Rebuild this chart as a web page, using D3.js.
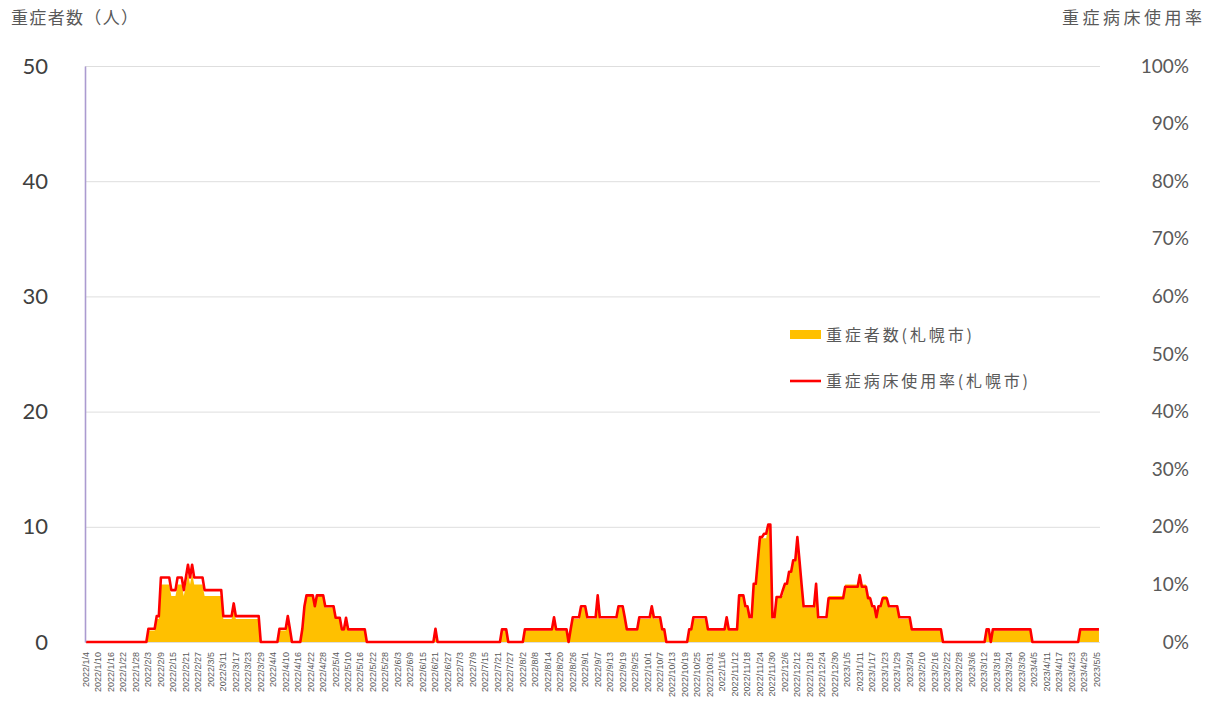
<!DOCTYPE html>
<html>
<head>
<meta charset="utf-8">
<script src="https://cdn.jsdelivr.net/npm/d3@7"></script>
<style>
  body { margin: 0; background: #fff; }
  svg { display: block; }
</style>
</head>
<body>
<script>
// start date of each run of equal values (a run lasts until the next start)
const runStarts = [
  "2022/1/4", "2022/2/3", "2022/2/7", "2022/2/9", "2022/2/14", "2022/2/17", "2022/2/20", "2022/2/21",
  "2022/2/22", "2022/2/23", "2022/2/24", "2022/2/25", "2022/3/2", "2022/3/11", "2022/3/16", "2022/3/17",
  "2022/3/29", "2022/4/7", "2022/4/11", "2022/4/12", "2022/4/13", "2022/4/18", "2022/4/19", "2022/4/20",
  "2022/4/24", "2022/4/25", "2022/4/29", "2022/5/4", "2022/5/7", "2022/5/9", "2022/5/10", "2022/5/19",
  "2022/6/21", "2022/6/22", "2022/7/23", "2022/7/26", "2022/8/3", "2022/8/17", "2022/8/18", "2022/8/24",
  "2022/8/25", "2022/8/26", "2022/8/30", "2022/9/2", "2022/9/7", "2022/9/8", "2022/9/17", "2022/9/20",
  "2022/9/21", "2022/9/27", "2022/10/3", "2022/10/4", "2022/10/8", "2022/10/10", "2022/10/21", "2022/10/23",
  "2022/10/30", "2022/11/8", "2022/11/9", "2022/11/14", "2022/11/17", "2022/11/19", "2022/11/21", "2022/11/23",
  "2022/11/24", "2022/11/26", "2022/11/28", "2022/11/30", "2022/12/2", "2022/12/5", "2022/12/6", "2022/12/8",
  "2022/12/10", "2022/12/12", "2022/12/13", "2022/12/14", "2022/12/15", "2022/12/21", "2022/12/22", "2022/12/27",
  "2023/1/4", "2023/1/11", "2023/1/12", "2023/1/15", "2023/1/17", "2023/1/19", "2023/1/20", "2023/1/22",
  "2023/1/25", "2023/1/30", "2023/2/5", "2023/2/20", "2023/3/13", "2023/3/15", "2023/3/16", "2023/4/4",
  "2023/4/27"
];
const lastDate = "2023/5/6";

// 重症者数（人）
const severeCounts = [
  0, 1, 2, 5, 4, 5, 4, 5, 6, 5, 6, 5, 4, 2, 3, 2,
  0, 1, 2, 1, 0, 1, 3, 4, 3, 4, 3, 2, 1, 2, 1, 0,
  1, 0, 1, 0, 1, 2, 1, 0, 1, 2, 3, 2, 4, 2, 3, 2,
  1, 2, 3, 2, 1, 0, 1, 2, 1, 2, 1, 4, 3, 2, 5, 7,
  9, 9, 10, 2, 4, 4, 5, 6, 7, 9, 7, 5, 3, 5, 2, 4,
  5, 6, 5, 4, 3, 2, 3, 4, 3, 2, 1, 0, 1, 0, 1, 0,
  1
];

// 重症病床使用率（%）
const bedRates = [
  0, 2.3, 4.5, 11.2, 9.0, 11.2, 9.0, 11.2, 13.4, 11.2, 13.4, 11.2, 9.0, 4.5, 6.7, 4.5,
  0, 2.3, 4.5, 2.3, 0, 2.3, 6.2, 8.1, 6.2, 8.1, 6.2, 4.2, 2.2, 4.2, 2.2, 0,
  2.3, 0, 2.2, 0, 2.2, 4.3, 2.2, 0, 2.2, 4.3, 6.2, 4.3, 8.1, 4.3, 6.2, 4.3,
  2.2, 4.3, 6.2, 4.3, 2.2, 0, 2.2, 4.3, 2.2, 4.3, 2.2, 8.1, 6.2, 4.3, 10.1, 14.2,
  18.2, 18.8, 20.4, 4.3, 7.8, 9.0, 10.1, 12.2, 14.2, 18.2, 14.2, 10.1, 6.2, 10.1, 4.3, 7.6,
  9.6, 11.6, 9.6, 7.6, 6.2, 4.3, 6.2, 7.6, 6.2, 4.3, 2.2, 0, 2.2, 0, 2.2, 0,
  2.2
];

const leftTicks = [0, 10, 20, 30, 40, 50];
const rightTicks = [0, 10, 20, 30, 40, 50, 60, 70, 80, 90, 100];
const tickEvery = 6;

const width = 1212;
const height = 702;
const plot = { left: 85, right: 1100, top: 66, bottom: 642 };

const parse = d3.timeParse("%Y/%-m/%-d");
const fmt = d => `${d.getFullYear()}/${d.getMonth() + 1}/${d.getDate()}`;

// expand the runs into one row per day
const starts = runStarts.map(parse);
const days = d3.timeDay.range(starts[0], d3.timeDay.offset(parse(lastDate), 1));
const data = days.map(day => {
  const k = d3.bisectRight(starts, day) - 1;
  return { label: fmt(day), count: severeCounts[k], rate: bedRates[k] };
});

const svg = d3.select("body").append("svg")
  .attr("width", width)
  .attr("height", height)
  .attr("viewBox", [0, 0, width, height]);

const x = d3.scaleBand()
  .domain(data.map(d => d.label))
  .range([plot.left, plot.right]);
const cx = d => x(d.label) + x.bandwidth() / 2;

const yLeft = d3.scaleLinear().domain([0, 50]).range([plot.bottom, plot.top]);
const yRight = d3.scaleLinear().domain([0, 100]).range([plot.bottom, plot.top]);

// gridlines
svg.append("g")
  .attr("transform", `translate(${plot.left},0)`)
  .call(d3.axisLeft(yLeft).tickValues(leftTicks).tickSize(-(plot.right - plot.left)).tickFormat(""))
  .call(g => g.select(".domain").remove())
  .call(g => g.selectAll("line").attr("stroke", "#dedede").attr("stroke-width", 1));

// area: 重症者数
svg.append("path")
  .datum(data)
  .attr("fill", "#ffc000")
  .attr("d", d3.area().x(cx).y0(yLeft(0)).y1(d => yLeft(d.count)));

// line: 重症病床使用率
svg.append("path")
  .datum(data)
  .attr("fill", "none")
  .attr("stroke", "#ff0000")
  .attr("stroke-width", 2.6)
  .attr("stroke-linejoin", "round")
  .attr("d", d3.line().x(cx).y(d => yRight(d.rate)));

// left axis
svg.append("g")
  .attr("transform", `translate(${plot.left},0)`)
  .call(d3.axisLeft(yLeft).tickValues(leftTicks).tickSize(0).tickPadding(37))
  .call(g => g.select(".domain").attr("stroke", "#ab9bd0").attr("stroke-width", 1.6))
  .call(g => g.selectAll("text")
    .attr("fill", "#404040")
    .attr("font-family", "Lato, 'Open Sans', sans-serif")
    .attr("font-size", 22));

// right axis
svg.append("g")
  .attr("transform", `translate(${plot.right},0)`)
  .call(d3.axisRight(yRight).tickValues(rightTicks).tickSize(0).tickPadding(89).tickFormat(d => d + "%"))
  .call(g => g.select(".domain").remove())
  .call(g => g.selectAll("text")
    .attr("text-anchor", "end")
    .attr("fill", "#595959")
    .attr("font-family", "Lato, 'Open Sans', sans-serif")
    .attr("font-size", 19));

// category axis, one label every six days
svg.append("g")
  .attr("transform", `translate(0,${plot.bottom})`)
  .call(d3.axisBottom(x)
    .tickValues(x.domain().filter((d, i) => i % tickEvery === 0))
    .tickSize(0))
  .call(g => g.select(".domain").remove())
  .call(g => g.selectAll("text")
    .attr("transform", "rotate(-90)")
    .attr("x", -10)
    .attr("y", 0)
    .attr("dy", "0.32em")
    .attr("text-anchor", "end")
    .attr("fill", "#595959")
    .attr("font-family", "'Liberation Sans', sans-serif")
    .attr("font-size", 9));

// axis titles
const cjk = "'Noto Sans CJK JP', sans-serif";
svg.append("text")
  .attr("x", 11).attr("y", 24)
  .attr("font-family", cjk).attr("font-size", 17).attr("fill", "#595959")
  .attr("textLength", 127).attr("lengthAdjust", "spacing")
  .text("重症者数（人）");

svg.append("text")
  .attr("x", 1062).attr("y", 24)
  .attr("font-family", cjk).attr("font-size", 17).attr("fill", "#595959")
  .attr("textLength", 140).attr("lengthAdjust", "spacing")
  .text("重症病床使用率");

// legend
const legend = svg.append("g").attr("font-family", cjk).attr("font-size", 16).attr("fill", "#595959");
legend.append("rect")
  .attr("x", 790).attr("y", 330).attr("width", 31).attr("height", 9)
  .attr("fill", "#ffc000");
legend.append("text")
  .attr("x", 826).attr("y", 335).attr("dy", "0.35em")
  .attr("textLength", 146).attr("lengthAdjust", "spacing")
  .text("重症者数(札幌市)");
legend.append("line")
  .attr("x1", 790).attr("x2", 821).attr("y1", 381).attr("y2", 381)
  .attr("stroke", "#ff0000").attr("stroke-width", 2.6);
legend.append("text")
  .attr("x", 826).attr("y", 381).attr("dy", "0.35em")
  .attr("textLength", 202).attr("lengthAdjust", "spacing")
  .text("重症病床使用率(札幌市)");
</script>
</body>
</html>
